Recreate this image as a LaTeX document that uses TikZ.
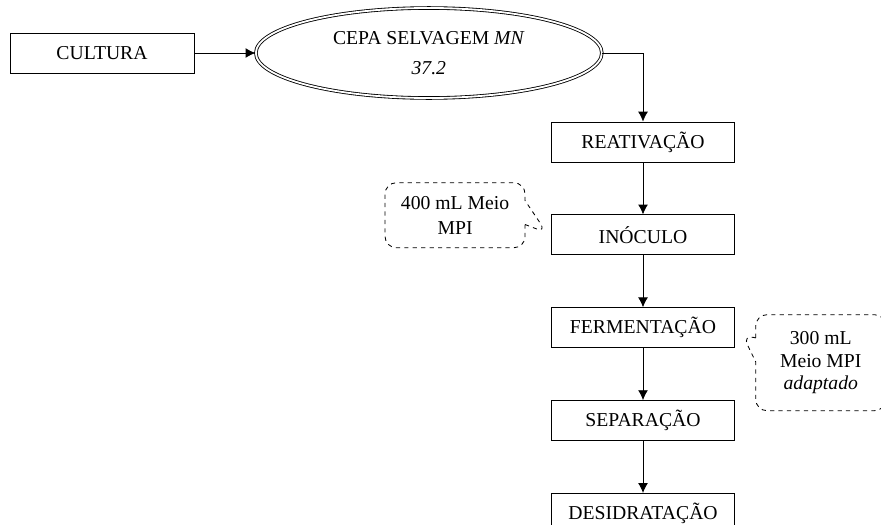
\documentclass[tikz,border=0pt]{standalone}
\usepackage{fontspec}
\setmainfont{Liberation Serif}
\usetikzlibrary{positioning,shapes.geometric,shapes.callouts,arrows.meta}

\begin{document}
\begin{tikzpicture}[node distance=1.3cm, auto, line width=0.6pt, font=\fontsize{14}{16}\selectfont]
\tikzstyle{block} = [draw, rectangle, minimum height=1cm, minimum width=4.575cm, text centered]
\tikzstyle{strain} = [draw, ellipse, double, double distance=1.3pt, minimum width=8.65cm, minimum height=2.25cm, align=center]
\tikzstyle{note} = [draw, dashed, rectangle callout, rounded corners=8pt, align=center, callout pointer width=0.6cm]
\tikzstyle{line} = [draw, -{Latex[length=7pt,width=7pt]}]

\useasboundingbox (0,0) rectangle (22.025,-13.1);

\node [block, minimum width=4.6cm] (cultura) at (2.55,-1.325) {CULTURA};
\node [strain, right=1.525cm of cultura] (cepa) {CEPA SELVAGEM \textit{MN}\\[5pt]\textit{37.2}};
\node [block] (reat) at (16.075,-3.55) {REATIVAÇÃO};
\node [block, below=of reat] (ino) {INÓCULO};
\node [block, below=of ino] (ferm) {FERMENTAÇÃO};
\node [block, below=of ferm] (sep) {SEPARAÇÃO};
\node [block, below=of sep] (desid) {DESIDRATAÇÃO};

\node [note, left=0.64cm of ino, yshift=0.49cm, minimum width=3.5cm, minimum height=1.625cm,
  callout absolute pointer={([xshift=-0.11cm,yshift=0.05cm]ino.west)}] (meio1) {400 mL Meio\\[2pt]MPI};
\node [note, right=0.51cm of ferm, yshift=-0.875cm, minimum width=3.25cm, minimum height=2.4cm,
  callout absolute pointer={([xshift=0.19cm,yshift=-0.175cm]ferm.east)}] (meio2) {300 mL\\Meio MPI\\\textit{adaptado}};

\path [line] (cultura) -- (cepa);
\path [line] (cepa.east) -| (reat.north);
\path [line] (reat) -- (ino);
\path [line] (ino) -- (ferm);
\path [line] (ferm) -- (sep);
\path [line] (sep) -- (desid);

\end{tikzpicture}
\end{document}
